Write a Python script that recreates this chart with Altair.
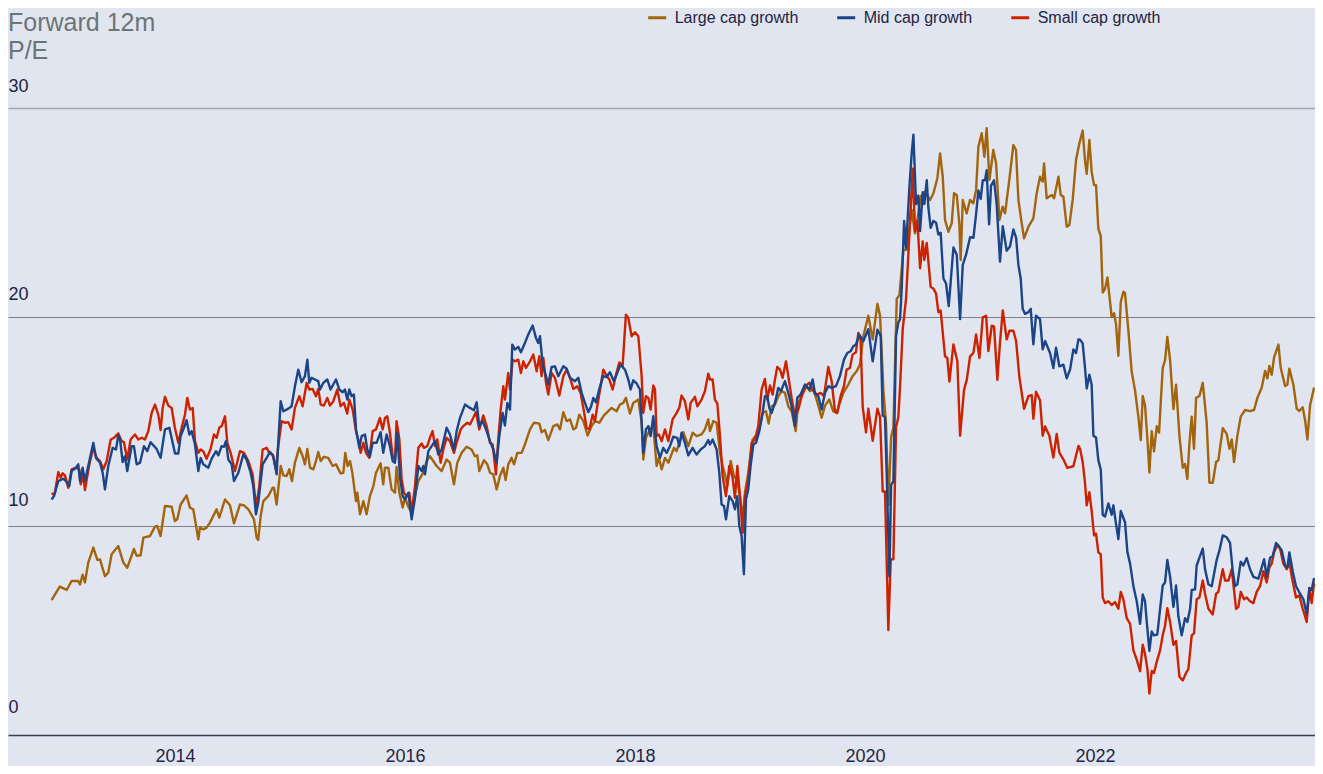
import altair as alt
import pandas as pd

# ---------------- data (decimal year, forward 12m P/E) ----------------
large_cap = [
    (2012.927, 6.45), (2012.998, 7.10), (2013.058, 6.94), (2013.101, 7.37), (2013.159, 7.37), (2013.174, 7.20),
    (2013.197, 7.67), (2013.217, 7.30), (2013.246, 8.25), (2013.290, 8.97), (2013.325, 8.38), (2013.348, 8.40),
    (2013.391, 7.60), (2013.420, 7.77), (2013.449, 8.65), (2013.507, 9.04), (2013.551, 8.25), (2013.585, 8.00),
    (2013.643, 8.90), (2013.667, 8.57), (2013.701, 8.60), (2013.725, 9.44), (2013.783, 9.52), (2013.826, 9.97),
    (2013.846, 10.00), (2013.875, 9.52), (2013.913, 10.96), (2013.971, 10.92), (2013.999, 10.24), (2014.020, 10.32),
    (2014.049, 11.03), (2014.101, 11.46), (2014.130, 10.88), (2014.159, 10.80), (2014.203, 9.36), (2014.217, 9.92),
    (2014.246, 9.84), (2014.275, 9.92), (2014.304, 10.16), (2014.362, 10.80), (2014.385, 10.40), (2014.435, 11.27),
    (2014.478, 10.99), (2014.513, 10.13), (2014.565, 11.03), (2014.600, 10.99), (2014.638, 10.80),
    (2014.687, 10.32), (2014.710, 9.44), (2014.724, 9.33), (2014.745, 10.48), (2014.768, 11.19), (2014.811, 11.43),
    (2014.849, 11.83), (2014.861, 11.83), (2014.884, 11.03), (2014.919, 12.87), (2014.942, 12.42), (2014.971, 12.39),
    (2014.994, 12.71), (2015.017, 12.15), (2015.043, 13.03), (2015.081, 13.74), (2015.110, 13.34), (2015.130, 12.95),
    (2015.151, 13.69), (2015.174, 12.79), (2015.203, 12.71), (2015.226, 13.11), (2015.246, 13.54), (2015.267, 13.11),
    (2015.295, 13.31), (2015.333, 13.26), (2015.371, 12.87), (2015.400, 12.95), (2015.440, 12.52), (2015.464, 12.55),
    (2015.481, 13.50), (2015.501, 12.87), (2015.522, 13.11), (2015.542, 12.55), (2015.574, 11.19), (2015.585, 11.59),
    (2015.609, 10.56), (2015.638, 11.19), (2015.666, 10.56), (2015.695, 11.43), (2015.725, 11.91), (2015.748, 12.55),
    (2015.788, 13.00), (2015.811, 11.99), (2015.826, 12.79), (2015.855, 12.79), (2015.884, 11.75), (2015.913, 11.59),
    (2015.927, 12.83), (2015.951, 11.59), (2015.980, 10.88), (2016.000, 11.35), (2016.029, 10.92), (2016.058, 10.64),
    (2016.087, 11.43), (2016.116, 12.15), (2016.159, 12.55), (2016.188, 13.11), (2016.217, 13.34), (2016.246, 13.11),
    (2016.275, 12.87), (2016.319, 12.63), (2016.362, 13.18), (2016.391, 13.03), (2016.426, 11.99), (2016.455, 13.03),
    (2016.493, 13.50), (2016.536, 13.79), (2016.579, 13.66), (2016.608, 13.34), (2016.629, 13.38), (2016.646, 12.63),
    (2016.687, 13.15), (2016.716, 12.95), (2016.739, 12.55), (2016.768, 12.47), (2016.797, 11.75), (2016.826, 12.39),
    (2016.855, 12.79), (2016.875, 12.20), (2016.898, 12.95), (2016.927, 13.26), (2016.948, 12.95), (2016.977, 13.50),
    (2017.014, 13.50), (2017.043, 13.90), (2017.087, 14.62), (2017.121, 14.94), (2017.168, 14.90), (2017.188, 14.49),
    (2017.217, 14.59), (2017.246, 14.11), (2017.290, 14.78), (2017.324, 14.86), (2017.348, 14.62), (2017.377, 15.45),
    (2017.406, 15.02), (2017.435, 15.10), (2017.464, 14.62), (2017.487, 14.70), (2017.516, 15.33), (2017.551, 15.02),
    (2017.588, 14.33), (2017.623, 14.78), (2017.652, 15.02), (2017.690, 14.94), (2017.730, 15.29), (2017.797, 15.65),
    (2017.840, 15.49), (2017.869, 15.81), (2017.898, 15.89), (2017.921, 16.13), (2017.956, 15.38), (2017.985, 15.89),
    (2018.029, 16.05), (2018.058, 14.94), (2018.072, 13.18), (2018.095, 14.22), (2018.130, 14.62), (2018.159, 14.78),
    (2018.188, 12.87), (2018.208, 13.26), (2018.232, 12.71), (2018.261, 13.26), (2018.290, 13.03),
    (2018.339, 13.74), (2018.362, 13.58), (2018.391, 14.06), (2018.420, 14.49), (2018.464, 13.82), (2018.501, 14.46),
    (2018.536, 14.30), (2018.579, 14.38), (2018.608, 14.62), (2018.637, 15.10), (2018.652, 14.54), (2018.681, 15.02),
    (2018.710, 14.94), (2018.739, 13.50), (2018.762, 12.87), (2018.782, 12.47), (2018.803, 11.91), (2018.832, 13.11),
    (2018.861, 12.39), (2018.884, 12.23), (2018.913, 11.43), (2018.936, 10.32), (2018.956, 11.59), (2018.985, 12.55),
    (2019.023, 14.14), (2019.072, 14.46), (2019.110, 15.41), (2019.139, 15.49), (2019.162, 14.90), (2019.188, 15.73),
    (2019.217, 15.81), (2019.246, 16.21), (2019.275, 16.45), (2019.304, 16.37), (2019.333, 15.73), (2019.362, 15.49),
    (2019.397, 14.54), (2019.420, 15.89), (2019.449, 16.21), (2019.492, 16.69), (2019.521, 16.45), (2019.550, 16.53),
    (2019.579, 16.05), (2019.623, 15.18), (2019.652, 15.76), (2019.690, 16.05), (2019.724, 15.49), (2019.753, 15.41),
    (2019.782, 15.89), (2019.811, 16.37), (2019.855, 16.77), (2019.892, 17.17), (2019.927, 17.40), (2019.956, 17.72),
    (2019.986, 19.09), (2020.029, 20.06), (2020.067, 18.93), (2020.108, 20.63), (2020.131, 20.06), (2020.160, 16.50),
    (2020.183, 14.89), (2020.203, 11.00), (2020.227, 14.24), (2020.247, 14.72), (2020.276, 20.87), (2020.299, 21.04),
    (2020.334, 23.21), (2020.363, 23.21), (2020.406, 25.12), (2020.435, 24.00), (2020.464, 24.96), (2020.484, 25.76),
    (2020.522, 26.00), (2020.566, 25.60), (2020.595, 25.92), (2020.629, 26.63), (2020.653, 27.83), (2020.676, 26.71),
    (2020.696, 24.64), (2020.725, 24.08), (2020.754, 24.48), (2020.774, 25.92), (2020.798, 25.84), (2020.821, 24.40),
    (2020.832, 22.73), (2020.850, 25.60), (2020.884, 24.96), (2020.913, 25.60), (2020.942, 25.44), (2020.966, 26.08),
    (2020.986, 28.15), (2021.015, 28.79), (2021.038, 27.67), (2021.058, 29.03), (2021.082, 26.56), (2021.116, 27.99),
    (2021.140, 27.35), (2021.169, 24.64), (2021.197, 25.28), (2021.218, 24.96), (2021.255, 26.56), (2021.290, 28.23),
    (2021.313, 27.99), (2021.334, 25.60), (2021.363, 24.48), (2021.383, 23.76), (2021.421, 24.32), (2021.464, 24.72),
    (2021.493, 25.92), (2021.522, 26.71), (2021.545, 26.48), (2021.557, 27.35), (2021.580, 25.68), (2021.624, 25.84),
    (2021.644, 25.68), (2021.682, 26.71), (2021.702, 25.84), (2021.725, 25.76), (2021.754, 24.32), (2021.777, 24.40),
    (2021.806, 25.60), (2021.835, 27.51), (2021.864, 28.31), (2021.893, 28.92), (2021.913, 27.48), (2021.928, 26.85),
    (2021.951, 28.47), (2021.971, 26.94), (2021.992, 26.31), (2022.009, 26.31), (2022.029, 24.23), (2022.050, 23.87),
    (2022.067, 21.17), (2022.087, 21.35), (2022.108, 21.89), (2022.145, 20.00), (2022.166, 20.18), (2022.183, 19.64),
    (2022.203, 18.14), (2022.224, 20.72), (2022.247, 21.21), (2022.261, 21.14), (2022.290, 19.37), (2022.319, 17.39),
    (2022.348, 16.49), (2022.377, 15.23), (2022.398, 14.11), (2022.415, 16.22), (2022.435, 15.77), (2022.456, 14.14),
    (2022.473, 12.56), (2022.493, 14.54), (2022.513, 13.57), (2022.537, 14.77), (2022.557, 14.47), (2022.589, 17.57),
    (2022.609, 17.93), (2022.629, 19.05), (2022.653, 17.93), (2022.682, 15.59), (2022.705, 16.76), (2022.734, 14.32),
    (2022.763, 12.79), (2022.783, 12.97), (2022.803, 12.25), (2022.821, 13.96), (2022.841, 15.23), (2022.861, 13.69),
    (2022.879, 16.13), (2022.908, 16.22), (2022.937, 16.85), (2022.971, 14.95), (2022.995, 12.07), (2023.024, 12.07),
    (2023.053, 13.06), (2023.073, 13.15), (2023.111, 14.68), (2023.145, 14.41), (2023.169, 13.69), (2023.189, 14.14),
    (2023.209, 13.06), (2023.238, 14.32), (2023.267, 15.23), (2023.305, 15.55), (2023.348, 15.50), (2023.383, 15.55),
    (2023.412, 16.13), (2023.450, 16.63), (2023.479, 17.42), (2023.499, 17.06), (2023.516, 17.66), (2023.537, 17.24),
    (2023.557, 18.07), (2023.595, 18.68), (2023.615, 17.57), (2023.653, 16.70), (2023.673, 16.76), (2023.690, 17.53),
    (2023.725, 16.76), (2023.754, 15.62), (2023.777, 15.50), (2023.806, 15.68), (2023.827, 15.05), (2023.847, 14.14),
    (2023.870, 15.77), (2023.905, 16.63),
]

mid_cap = [
    (2012.927, 11.27), (2012.948, 11.43), (2012.985, 12.15), (2013.029, 12.26), (2013.052, 12.15), (2013.081, 11.91),
    (2013.101, 12.63), (2013.139, 12.79), (2013.159, 12.95), (2013.174, 12.15), (2013.197, 12.79), (2013.217, 12.15),
    (2013.246, 12.87), (2013.290, 13.98), (2013.313, 13.26), (2013.348, 13.03), (2013.371, 12.55), (2013.391, 11.75),
    (2013.420, 12.87), (2013.458, 13.74), (2013.487, 13.66), (2013.507, 14.33), (2013.522, 14.14), (2013.545, 13.06),
    (2013.565, 13.34), (2013.585, 12.63), (2013.623, 13.82), (2013.643, 13.82), (2013.667, 12.95), (2013.696, 13.03),
    (2013.730, 13.82), (2013.759, 13.58), (2013.788, 14.01), (2013.840, 13.69), (2013.875, 13.26), (2013.913, 14.62),
    (2013.951, 14.70), (2013.980, 13.98), (2014.000, 13.47), (2014.029, 13.47), (2014.049, 14.30), (2014.078, 14.70),
    (2014.101, 15.06), (2014.125, 14.38), (2014.145, 14.54), (2014.174, 13.90), (2014.203, 12.63), (2014.223, 13.26),
    (2014.246, 12.95), (2014.290, 12.79), (2014.319, 13.22), (2014.357, 13.58), (2014.377, 13.38), (2014.406, 13.82),
    (2014.426, 13.79), (2014.443, 14.06), (2014.464, 13.18), (2014.493, 12.95), (2014.513, 12.15), (2014.551, 12.55),
    (2014.594, 13.42), (2014.623, 13.18), (2014.658, 12.55), (2014.681, 11.91), (2014.704, 10.56), (2014.724, 11.11),
    (2014.762, 12.95), (2014.797, 13.26), (2014.826, 13.54), (2014.855, 13.34), (2014.884, 12.47), (2014.898, 13.98),
    (2014.919, 15.97), (2014.942, 15.49), (2014.971, 15.57), (2014.994, 15.65), (2015.014, 15.73), (2015.043, 16.69),
    (2015.072, 17.48), (2015.101, 16.88), (2015.130, 17.17), (2015.151, 17.96), (2015.168, 16.85), (2015.188, 17.09),
    (2015.217, 17.01), (2015.246, 16.93), (2015.261, 16.53), (2015.290, 16.85), (2015.324, 17.01), (2015.353, 16.53),
    (2015.400, 17.01), (2015.429, 16.53), (2015.458, 16.40), (2015.478, 16.53), (2015.498, 16.05), (2015.516, 16.53),
    (2015.536, 16.21), (2015.556, 16.29), (2015.574, 14.62), (2015.603, 13.74), (2015.623, 14.30), (2015.652, 14.38),
    (2015.672, 13.66), (2015.695, 13.34), (2015.719, 13.98), (2015.753, 13.98), (2015.788, 14.49), (2015.811, 13.50),
    (2015.840, 14.38), (2015.869, 13.82), (2015.893, 13.11), (2015.913, 13.03), (2015.933, 14.46), (2015.956, 12.39),
    (2015.980, 11.43), (2016.000, 11.27), (2016.029, 11.59), (2016.058, 10.32), (2016.087, 11.35), (2016.116, 12.87),
    (2016.145, 12.63), (2016.159, 12.87), (2016.174, 12.47), (2016.203, 13.58), (2016.232, 13.82), (2016.261, 14.06),
    (2016.290, 13.42), (2016.319, 13.66), (2016.362, 14.70), (2016.391, 14.38), (2016.426, 13.66), (2016.449, 14.54),
    (2016.478, 15.17), (2016.522, 15.81), (2016.565, 15.65), (2016.600, 15.54), (2016.623, 15.92), (2016.646, 14.78),
    (2016.675, 15.02), (2016.710, 14.54), (2016.739, 14.06), (2016.768, 13.66), (2016.797, 13.03), (2016.820, 14.30),
    (2016.849, 15.41), (2016.869, 14.81), (2016.890, 15.89), (2016.913, 15.57), (2016.933, 18.68), (2016.956, 18.44),
    (2016.985, 18.57), (2017.008, 18.31), (2017.043, 18.76), (2017.072, 19.16), (2017.110, 19.59), (2017.139, 19.00),
    (2017.159, 18.76), (2017.174, 19.08), (2017.197, 17.72), (2017.226, 17.17), (2017.246, 16.77), (2017.275, 17.61),
    (2017.304, 17.64), (2017.333, 17.17), (2017.377, 17.64), (2017.406, 17.52), (2017.435, 17.09), (2017.478, 16.93),
    (2017.507, 17.09), (2017.536, 16.37), (2017.565, 15.89), (2017.594, 15.45), (2017.617, 15.70), (2017.638, 16.13),
    (2017.661, 15.92), (2017.690, 16.56), (2017.724, 17.17), (2017.753, 17.13), (2017.782, 17.36), (2017.817, 16.93),
    (2017.846, 17.33), (2017.875, 17.72), (2017.913, 17.48), (2017.942, 17.01), (2017.962, 16.53), (2017.985, 16.97),
    (2018.014, 16.82), (2018.043, 16.53), (2018.058, 14.94), (2018.072, 13.50), (2018.095, 14.62), (2018.116, 14.78),
    (2018.136, 14.30), (2018.159, 15.25), (2018.188, 13.82), (2018.217, 13.26), (2018.246, 13.74), (2018.275, 13.50),
    (2018.304, 13.82), (2018.333, 14.27), (2018.368, 14.22), (2018.385, 13.82), (2018.405, 14.46), (2018.434, 13.98),
    (2018.464, 13.38), (2018.501, 13.74), (2018.536, 13.42), (2018.571, 13.66), (2018.608, 13.82), (2018.637, 14.11),
    (2018.652, 13.90), (2018.675, 14.14), (2018.710, 13.66), (2018.733, 12.55), (2018.753, 11.03), (2018.774, 10.96),
    (2018.791, 10.32), (2018.820, 11.43), (2018.849, 11.19), (2018.869, 10.80), (2018.890, 11.43), (2018.907, 10.00),
    (2018.927, 9.52), (2018.947, 7.69), (2018.965, 11.27), (2018.985, 11.75), (2019.005, 12.87), (2019.029, 13.90),
    (2019.052, 13.98), (2019.081, 14.54), (2019.110, 15.41), (2019.130, 16.21), (2019.150, 16.21), (2019.168, 15.65),
    (2019.188, 15.41), (2019.217, 15.89), (2019.246, 16.61), (2019.269, 16.45), (2019.304, 16.93), (2019.333, 16.37),
    (2019.362, 15.73), (2019.391, 14.78), (2019.411, 16.13), (2019.440, 16.29), (2019.478, 16.77), (2019.516, 16.53),
    (2019.545, 17.01), (2019.565, 16.34), (2019.594, 16.21), (2019.623, 15.57), (2019.652, 16.37), (2019.681, 16.69),
    (2019.710, 16.61), (2019.748, 16.69), (2019.782, 17.17), (2019.817, 17.96), (2019.846, 18.28), (2019.875, 18.36),
    (2019.898, 18.60), (2019.921, 18.68), (2019.950, 19.16), (2019.986, 18.85), (2020.029, 19.42), (2020.067, 17.88),
    (2020.108, 19.39), (2020.137, 19.09), (2020.154, 15.29), (2020.174, 15.21), (2020.189, 12.46), (2020.212, 7.60),
    (2020.227, 11.97), (2020.247, 12.14), (2020.270, 19.09), (2020.290, 19.74), (2020.305, 19.90), (2020.319, 21.36),
    (2020.340, 24.60), (2020.357, 23.30), (2020.386, 26.21), (2020.406, 27.83), (2020.421, 28.72), (2020.444, 25.40),
    (2020.464, 25.81), (2020.479, 24.11), (2020.502, 25.97), (2020.516, 25.40), (2020.537, 26.54), (2020.551, 25.24),
    (2020.571, 24.27), (2020.595, 24.60), (2020.618, 24.51), (2020.638, 23.95), (2020.658, 24.03), (2020.682, 21.84),
    (2020.705, 21.60), (2020.728, 20.52), (2020.745, 21.68), (2020.769, 23.33), (2020.798, 22.98), (2020.827, 19.90),
    (2020.850, 22.49), (2020.879, 22.98), (2020.914, 23.82), (2020.943, 23.79), (2020.966, 24.92), (2020.986, 26.05),
    (2021.006, 25.65), (2021.024, 26.54), (2021.044, 26.54), (2021.058, 27.02), (2021.079, 24.43), (2021.096, 26.29),
    (2021.122, 26.54), (2021.145, 25.40), (2021.174, 22.65), (2021.198, 24.35), (2021.232, 23.17), (2021.261, 23.38),
    (2021.290, 24.19), (2021.314, 23.79), (2021.334, 22.49), (2021.354, 21.84), (2021.371, 20.39), (2021.392, 20.15),
    (2021.421, 20.23), (2021.441, 20.39), (2021.464, 18.69), (2021.487, 20.06), (2021.522, 19.90), (2021.545, 18.45),
    (2021.566, 18.85), (2021.609, 18.28), (2021.638, 17.56), (2021.661, 18.53), (2021.690, 17.64), (2021.725, 17.72),
    (2021.754, 17.07), (2021.783, 17.48), (2021.812, 18.45), (2021.835, 18.28), (2021.856, 18.93), (2021.870, 18.92),
    (2021.893, 18.74), (2021.913, 17.57), (2021.928, 16.58), (2021.951, 17.24), (2021.971, 16.76), (2021.986, 14.32),
    (2022.009, 14.23), (2022.029, 13.15), (2022.050, 12.70), (2022.067, 10.54), (2022.087, 10.45), (2022.116, 11.08),
    (2022.145, 10.54), (2022.160, 10.99), (2022.183, 10.09), (2022.203, 9.37), (2022.224, 10.72), (2022.261, 10.18),
    (2022.282, 8.74), (2022.305, 8.20), (2022.334, 7.12), (2022.363, 6.40), (2022.392, 5.32), (2022.415, 6.72),
    (2022.435, 6.40), (2022.450, 5.41), (2022.473, 4.02), (2022.493, 4.95), (2022.513, 4.77), (2022.542, 4.81),
    (2022.566, 6.04), (2022.589, 7.15), (2022.609, 7.30), (2022.629, 8.38), (2022.653, 7.57), (2022.682, 6.13),
    (2022.705, 7.15), (2022.725, 5.68), (2022.754, 4.77), (2022.783, 5.59), (2022.803, 5.41), (2022.827, 6.04),
    (2022.841, 6.94), (2022.870, 6.97), (2022.884, 8.11), (2022.913, 8.56), (2022.937, 8.92), (2022.957, 7.93),
    (2022.986, 7.21), (2023.015, 7.12), (2023.058, 8.38), (2023.082, 8.83), (2023.111, 9.55), (2023.145, 9.46),
    (2023.174, 9.19), (2023.198, 7.84), (2023.218, 7.12), (2023.238, 7.21), (2023.267, 8.29), (2023.290, 8.11),
    (2023.319, 8.47), (2023.348, 7.93), (2023.377, 7.57), (2023.421, 7.48), (2023.450, 8.02), (2023.470, 8.41),
    (2023.493, 7.57), (2023.522, 8.47), (2023.545, 8.56), (2023.574, 9.19), (2023.595, 9.06), (2023.624, 8.83),
    (2023.653, 8.11), (2023.673, 8.02), (2023.690, 8.74), (2023.719, 7.84), (2023.748, 7.12), (2023.783, 6.76),
    (2023.812, 6.49), (2023.841, 5.77), (2023.864, 7.03), (2023.884, 6.94), (2023.905, 7.51),
]

small_cap = [
    (2012.927, 11.51), (2012.956, 11.59), (2012.985, 12.58), (2013.006, 12.31), (2013.023, 12.52), (2013.043, 12.42),
    (2013.072, 11.83), (2013.101, 12.71), (2013.139, 12.79), (2013.168, 12.71), (2013.180, 11.99), (2013.203, 12.42),
    (2013.217, 11.72), (2013.255, 12.95), (2013.290, 13.74), (2013.319, 13.26), (2013.348, 13.11), (2013.377, 12.71),
    (2013.406, 13.11), (2013.441, 14.14), (2013.470, 14.22), (2013.507, 14.43), (2013.536, 14.06), (2013.556, 14.01),
    (2013.585, 13.18), (2013.614, 14.14), (2013.652, 14.38), (2013.681, 14.14), (2013.710, 14.22), (2013.739, 14.14),
    (2013.768, 14.54), (2013.797, 15.41), (2013.826, 15.81), (2013.855, 15.33), (2013.875, 14.59), (2013.893, 15.65),
    (2013.913, 16.18), (2013.942, 15.76), (2013.971, 15.65), (2013.999, 14.70), (2014.029, 13.98), (2014.058, 14.70),
    (2014.087, 15.33), (2014.107, 16.13), (2014.130, 15.57), (2014.154, 15.65), (2014.174, 14.06), (2014.203, 13.50),
    (2014.223, 13.66), (2014.246, 13.58), (2014.275, 13.22), (2014.310, 13.69), (2014.339, 14.38), (2014.362, 14.22),
    (2014.385, 14.70), (2014.406, 14.78), (2014.435, 15.25), (2014.455, 13.98), (2014.484, 13.50), (2014.522, 12.63),
    (2014.565, 13.58), (2014.600, 13.50), (2014.638, 13.11), (2014.675, 12.47), (2014.695, 11.43), (2014.710, 11.03),
    (2014.733, 11.91), (2014.762, 13.66), (2014.797, 13.74), (2014.820, 13.50), (2014.849, 13.42), (2014.878, 12.71),
    (2014.898, 13.82), (2014.927, 15.02), (2014.956, 14.94), (2014.985, 14.97), (2015.014, 14.62), (2015.043, 15.65),
    (2015.081, 16.21), (2015.110, 15.73), (2015.145, 16.85), (2015.168, 16.53), (2015.197, 16.56), (2015.226, 16.21),
    (2015.246, 16.56), (2015.267, 15.81), (2015.295, 15.76), (2015.324, 16.13), (2015.348, 15.76), (2015.377, 15.97),
    (2015.411, 16.53), (2015.440, 15.73), (2015.469, 15.89), (2015.498, 15.38), (2015.516, 16.05), (2015.545, 15.57),
    (2015.574, 14.54), (2015.594, 14.14), (2015.614, 13.50), (2015.638, 13.98), (2015.661, 13.50), (2015.690, 13.26),
    (2015.719, 14.54), (2015.748, 14.62), (2015.782, 15.17), (2015.806, 14.62), (2015.826, 15.17), (2015.846, 15.25),
    (2015.869, 14.46), (2015.893, 13.34), (2015.913, 13.18), (2015.927, 15.02), (2015.951, 14.14), (2015.971, 12.23),
    (2015.991, 11.59), (2016.014, 11.43), (2016.038, 11.59), (2016.058, 10.64), (2016.087, 11.91), (2016.116, 13.74),
    (2016.145, 13.95), (2016.165, 13.74), (2016.194, 13.82), (2016.217, 14.22), (2016.240, 14.54), (2016.261, 13.82),
    (2016.281, 14.14), (2016.310, 13.03), (2016.333, 13.66), (2016.362, 14.22), (2016.391, 14.06), (2016.426, 13.50),
    (2016.449, 13.98), (2016.484, 14.62), (2016.507, 14.78), (2016.542, 14.94), (2016.565, 14.86), (2016.594, 15.18),
    (2016.617, 15.45), (2016.646, 14.62), (2016.681, 15.29), (2016.710, 14.78), (2016.739, 13.98), (2016.762, 13.90),
    (2016.791, 12.47), (2016.811, 14.14), (2016.832, 15.57), (2016.855, 16.69), (2016.869, 16.05), (2016.898, 17.32),
    (2016.913, 16.53), (2016.936, 17.96), (2016.956, 17.88), (2016.985, 17.96), (2017.008, 17.32), (2017.029, 17.88),
    (2017.052, 17.56), (2017.087, 17.88), (2017.116, 18.20), (2017.145, 17.40), (2017.168, 18.12), (2017.188, 17.17),
    (2017.203, 18.04), (2017.226, 16.85), (2017.246, 16.29), (2017.275, 17.32), (2017.304, 17.09), (2017.342, 16.24),
    (2017.377, 17.17), (2017.406, 17.48), (2017.435, 17.09), (2017.464, 16.56), (2017.498, 16.69), (2017.527, 16.37),
    (2017.556, 15.49), (2017.579, 14.70), (2017.603, 14.62), (2017.632, 15.33), (2017.652, 15.02), (2017.672, 15.73),
    (2017.701, 16.69), (2017.724, 17.48), (2017.748, 17.24), (2017.777, 17.01), (2017.806, 16.53), (2017.835, 17.24),
    (2017.864, 17.83), (2017.892, 17.64), (2017.921, 20.11), (2017.942, 19.95), (2017.971, 19.08), (2018.000, 19.27),
    (2018.029, 19.08), (2018.058, 17.17), (2018.072, 15.41), (2018.095, 16.21), (2018.116, 16.13), (2018.136, 15.57),
    (2018.159, 16.72), (2018.174, 16.53), (2018.188, 14.30), (2018.208, 14.38), (2018.232, 14.06), (2018.261, 14.62),
    (2018.290, 14.06), (2018.327, 15.10), (2018.362, 15.41), (2018.385, 15.65), (2018.405, 16.24), (2018.434, 15.97),
    (2018.464, 15.10), (2018.484, 15.89), (2018.521, 16.18), (2018.542, 15.73), (2018.579, 16.05), (2018.608, 16.45),
    (2018.637, 17.29), (2018.652, 17.01), (2018.675, 17.01), (2018.695, 16.05), (2018.716, 15.86), (2018.739, 14.30),
    (2018.762, 12.39), (2018.791, 11.43), (2018.820, 12.87), (2018.849, 12.31), (2018.869, 11.35), (2018.890, 12.87),
    (2018.913, 11.43), (2018.936, 9.68), (2018.956, 11.43), (2018.985, 12.23), (2019.014, 13.98), (2019.043, 14.14),
    (2019.072, 14.78), (2019.101, 16.53), (2019.130, 17.04), (2019.150, 16.05), (2019.174, 16.72), (2019.197, 16.29),
    (2019.217, 17.01), (2019.237, 17.61), (2019.261, 17.48), (2019.284, 17.09), (2019.313, 17.88), (2019.333, 17.17),
    (2019.362, 16.13), (2019.391, 15.25), (2019.420, 15.57), (2019.449, 16.21), (2019.478, 16.69), (2019.516, 16.85),
    (2019.545, 16.53), (2019.579, 16.29), (2019.614, 16.37), (2019.643, 16.21), (2019.681, 17.61), (2019.710, 16.93),
    (2019.739, 15.49), (2019.759, 15.41), (2019.788, 16.21), (2019.817, 16.69), (2019.840, 17.48), (2019.869, 17.56),
    (2019.892, 18.20), (2019.921, 18.31), (2019.942, 19.24), (2019.962, 18.92), (2019.980, 15.70), (2020.009, 14.48),
    (2020.029, 15.61), (2020.067, 14.08), (2020.108, 15.61), (2020.131, 15.21), (2020.154, 11.65), (2020.174, 11.65),
    (2020.203, 5.02), (2020.224, 8.41), (2020.247, 8.41), (2020.270, 14.72), (2020.290, 15.21), (2020.305, 16.67),
    (2020.328, 19.42), (2020.357, 20.87), (2020.377, 22.98), (2020.392, 24.60), (2020.415, 27.10), (2020.435, 24.11),
    (2020.456, 24.60), (2020.479, 22.33), (2020.502, 23.62), (2020.516, 22.73), (2020.537, 23.54), (2020.571, 21.44),
    (2020.595, 21.36), (2020.618, 21.12), (2020.638, 20.23), (2020.658, 20.31), (2020.696, 18.12), (2020.716, 18.04),
    (2020.734, 16.91), (2020.769, 18.69), (2020.803, 17.88), (2020.827, 14.32), (2020.861, 16.50), (2020.885, 16.99),
    (2020.914, 18.12), (2020.943, 18.28), (2020.966, 19.17), (2020.995, 18.04), (2021.024, 19.98), (2021.053, 20.06),
    (2021.073, 18.37), (2021.102, 19.58), (2021.122, 19.55), (2021.151, 16.99), (2021.174, 18.78), (2021.198, 20.31),
    (2021.232, 18.93), (2021.256, 19.34), (2021.290, 19.34), (2021.314, 18.85), (2021.342, 17.15), (2021.383, 15.61),
    (2021.421, 16.21), (2021.450, 16.26), (2021.464, 15.13), (2021.487, 16.42), (2021.522, 16.02), (2021.545, 14.32),
    (2021.566, 14.76), (2021.603, 14.32), (2021.638, 13.27), (2021.667, 14.40), (2021.690, 13.51), (2021.725, 13.19),
    (2021.760, 12.78), (2021.812, 12.86), (2021.856, 13.83), (2021.870, 13.69), (2021.893, 13.06), (2021.913, 12.07),
    (2021.928, 10.99), (2021.951, 11.62), (2021.971, 10.72), (2021.992, 9.55), (2022.009, 9.64), (2022.029, 8.74),
    (2022.050, 8.65), (2022.067, 6.58), (2022.087, 6.31), (2022.116, 6.40), (2022.145, 6.22), (2022.174, 6.36),
    (2022.203, 6.04), (2022.224, 6.85), (2022.247, 6.49), (2022.276, 5.59), (2022.305, 5.32), (2022.334, 4.05),
    (2022.363, 3.60), (2022.392, 3.06), (2022.415, 4.32), (2022.435, 3.87), (2022.456, 3.15), (2022.473, 1.98),
    (2022.493, 3.06), (2022.513, 2.97), (2022.537, 3.51), (2022.566, 4.05), (2022.589, 4.77), (2022.609, 5.23),
    (2022.629, 6.07), (2022.653, 5.41), (2022.682, 4.32), (2022.705, 4.50), (2022.734, 2.79), (2022.763, 2.61),
    (2022.792, 2.97), (2022.812, 3.15), (2022.841, 4.77), (2022.861, 4.86), (2022.884, 6.49), (2022.908, 6.58),
    (2022.937, 7.39), (2022.957, 6.76), (2022.986, 6.04), (2023.024, 5.77), (2023.053, 6.76), (2023.073, 6.85),
    (2023.111, 7.93), (2023.131, 7.39), (2023.160, 7.39), (2023.189, 7.93), (2023.227, 6.04), (2023.247, 6.13),
    (2023.267, 6.85), (2023.296, 6.49), (2023.319, 6.58), (2023.348, 6.40), (2023.377, 6.31), (2023.406, 6.85),
    (2023.435, 7.12), (2023.464, 7.84), (2023.493, 7.30), (2023.516, 8.02), (2023.537, 8.20), (2023.557, 8.74),
    (2023.586, 9.10), (2023.609, 8.92), (2023.638, 8.20), (2023.667, 7.93), (2023.690, 8.29), (2023.711, 7.57),
    (2023.748, 6.58), (2023.777, 6.67), (2023.806, 6.04), (2023.841, 5.41), (2023.864, 7.03), (2023.884, 6.31),
    (2023.905, 7.30),
]

series_names = ["Large cap growth", "Mid cap growth", "Small cap growth"]
series_colors = ["#A3640E", "#1B4586", "#CC2200"]
y_ticks = [0, 10, 20, 30]
x_ticks = [2014, 2016, 2018, 2020, 2022]
x_domain = [2012.548, 2023.913]
y_domain = [0, 30]
title_text = "Forward 12m\nP/E"

# ---------------- build table ----------------
frames = []
for order, (name, pts) in enumerate([(series_names[0], large_cap),
                                     (series_names[2], small_cap),
                                     (series_names[1], mid_cap)]):
    d = pd.DataFrame(pts, columns=["year", "pe"])
    d["series"] = name
    d["draw"] = order
    frames.append(d)
df = pd.concat(frames, ignore_index=True)

LABEL_FONT = "Liberation Sans, Arial, sans-serif"
TEXT_COLOR = "#1F2442"

lines = alt.Chart(df).mark_line(strokeWidth=2.4, strokeJoin="round").encode(
    x=alt.X("year:Q",
            scale=alt.Scale(domain=x_domain, nice=False, zero=False),
            axis=alt.Axis(values=x_ticks, format="d", title=None, grid=False,
                          ticks=False, tickSize=0, labelPadding=26, labelBaseline="alphabetic",
                          labelFlush=False,
                          labelFont=LABEL_FONT, labelFontSize=18, labelColor=TEXT_COLOR,
                          domainColor="#3B3F4A", domainWidth=1.4)),
    y=alt.Y("pe:Q",
            scale=alt.Scale(domain=y_domain, nice=False),
            axis=alt.Axis(values=y_ticks, title=None, domain=False, ticks=False, tickSize=0,
                          grid=True,
                          gridColor={"condition": {"test": "datum.value == 30", "value": "#A4A7AF"},
                                     "value": "#7F8186"},
                          gridWidth={"condition": {"test": "datum.value == 30", "value": 1.6},
                                     "value": 1.1},
                          gridOpacity={"condition": {"test": "datum.value == 0", "value": 0},
                                       "value": 1},
                          labelAlign="left", labelBaseline="alphabetic", labelPadding=0,
                          labelOffset={"condition": [
                              {"test": "datum.value == 30", "value": -17},
                              {"test": "datum.value == 20", "value": -18},
                              {"test": "datum.value == 10", "value": -21}],
                              "value": -23},
                          labelFlush=False,
                          labelFont=LABEL_FONT, labelFontSize=18, labelColor=TEXT_COLOR)),
    color=alt.Color("series:N",
                    scale=alt.Scale(domain=series_names, range=series_colors),
                    legend=alt.Legend(orient="none", legendX=638.7, legendY=-101,
                                      direction="horizontal", title=None,
                                      symbolType="stroke", symbolSize=324, symbolStrokeWidth=3,
                                      labelFont=LABEL_FONT, labelFontSize=16,
                                      labelColor=TEXT_COLOR, labelOffset=7, columnPadding=32,
                                      padding=0, labelLimit=400)),
    order=alt.Order("draw:Q"),
    detail="series:N",
)

title = alt.Chart(pd.DataFrame({"label": [title_text]})).mark_text(
    align="left", baseline="alphabetic", lineBreak="\n", lineHeight=28,
    font=LABEL_FONT, fontSize=25, color="#6B7576",
).encode(x=alt.value(0), y=alt.value(-77.2), text="label:N")

chart = alt.layer(lines, title).properties(
    width=1307, height=627,
    autosize=alt.AutoSizeParams(type="none"),
    padding={"left": 0, "top": 100, "right": 0, "bottom": 31},
    background="#E1E5F0",
).configure_view(strokeWidth=0)

chart.save("out.html", embed_options={"renderer": "svg", "actions": False})
